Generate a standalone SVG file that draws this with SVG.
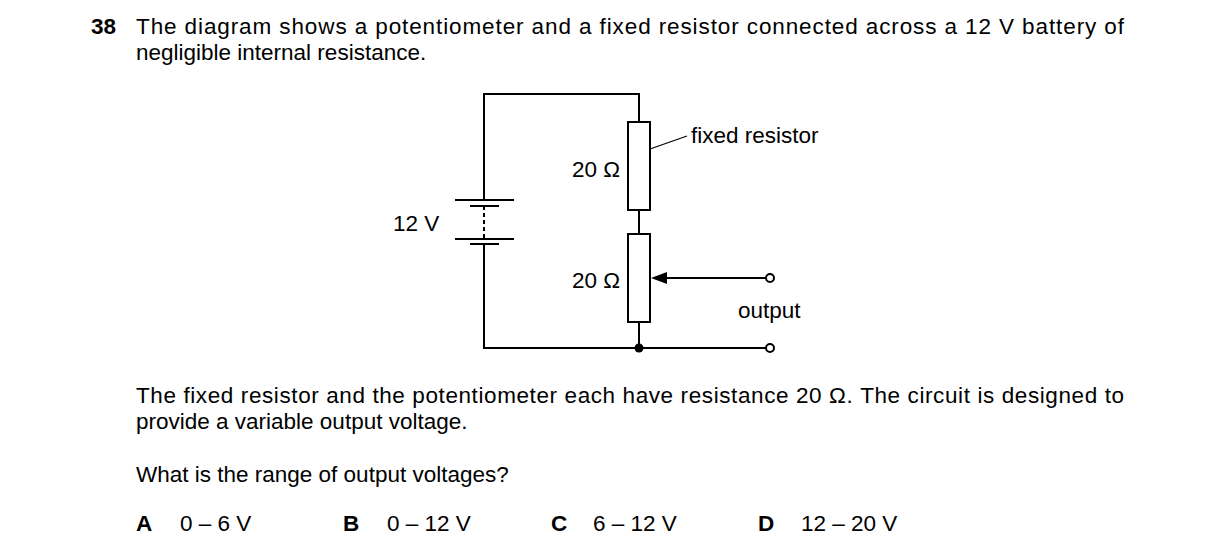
<svg xmlns="http://www.w3.org/2000/svg" width="1216" height="557" viewBox="0 0 1216 557">
<style>
text{font-family:"Liberation Sans",Arial,sans-serif;font-size:22.5px;fill:#000}
.w{stroke:#000;stroke-width:2;fill:none}
.r{stroke:#000;stroke-width:2;fill:#fff}
</style>
<rect width="1216" height="557" fill="#fff"/>
<g id="question">
<text x="91" y="34" font-weight="bold">38</text>
<text x="136" y="34" textLength="988" lengthAdjust="spacing">The diagram shows a potentiometer and a fixed resistor connected across a 12 V battery of</text>
<text x="136" y="60">negligible internal resistance.</text>
</g>
<g id="connectors">
<path class="w" d="M484,200 V94 H639 V122 M639,210 V234 M639,322 V348 M484,244 V348 H639 H766"/>
<path class="w" d="M484,206 V239" stroke-dasharray="4,3"/>
<path class="w" d="M665,278 H766"/>
<path d="M651,278 L667,272 L667,284 Z" fill="#000"/>
<path d="M650,149 L687,136" stroke="#000" stroke-width="1.2"/>
<circle cx="639" cy="348" r="4.5" fill="#000"/>
<circle cx="770" cy="278" r="4" class="r"/>
<circle cx="770" cy="348" r="4" class="r"/>
</g>
<g id="battery">
<path class="w" d="M455,200 H514 M470,206 H499 M455,239 H514 M470,244 H499"/>
</g>
<g id="fixed-resistor"><rect class="r" x="628" y="122" width="22" height="88"/></g>
<g id="potentiometer"><rect class="r" x="628" y="234" width="22" height="88"/></g>
<g id="labels">
<text x="691" y="143">fixed resistor</text>
<text x="572" y="177">20 Ω</text>
<text x="572" y="288">20 Ω</text>
<text x="393" y="231">12 V</text>
<text x="738" y="318">output</text>
</g>
<g id="text2">
<text x="136" y="403" textLength="988" lengthAdjust="spacing">The fixed resistor and the potentiometer each have resistance 20 Ω. The circuit is designed to</text>
<text x="136" y="429">provide a variable output voltage.</text>
<text x="136" y="482">What is the range of output voltages?</text>
<text x="136" y="531" font-weight="bold">A</text><text x="180" y="531">0 – 6 V</text>
<text x="343" y="531" font-weight="bold">B</text><text x="387" y="531">0 – 12 V</text>
<text x="551" y="531" font-weight="bold">C</text><text x="593" y="531">6 – 12 V</text>
<text x="758" y="531" font-weight="bold">D</text><text x="801" y="531">12 – 20 V</text>
</g>
</svg>
